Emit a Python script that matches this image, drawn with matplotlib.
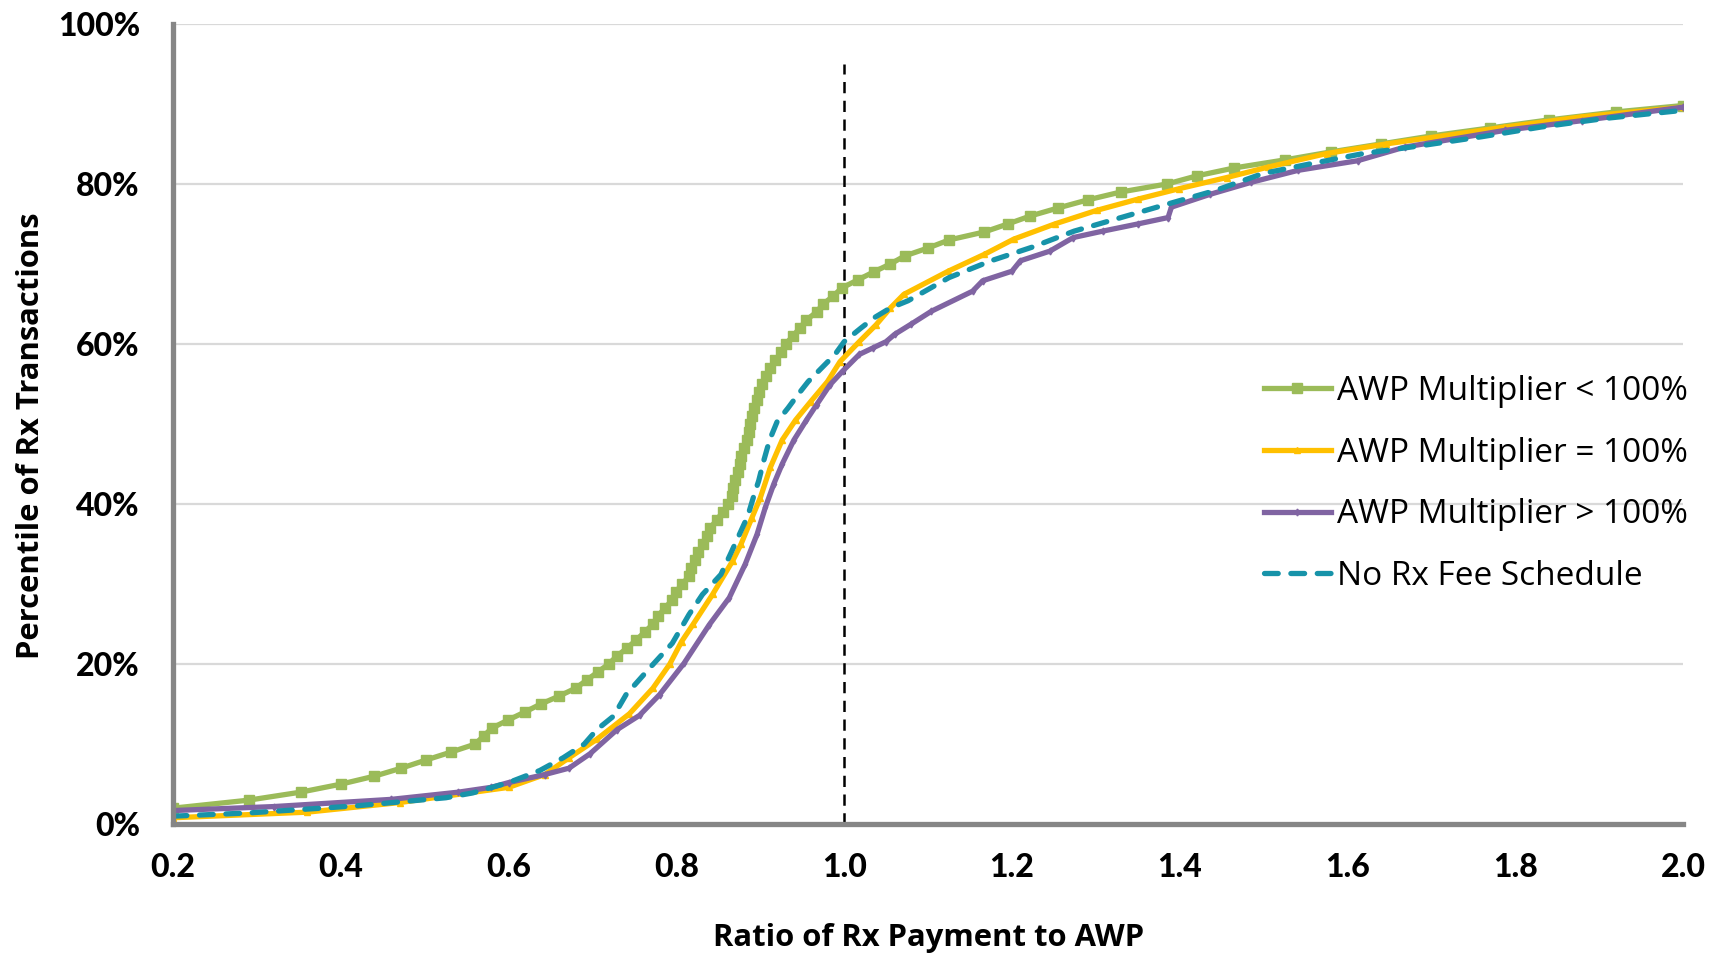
import matplotlib
matplotlib.use('Agg')
from matplotlib import pyplot as plt

# percentile (%) vs ratio of Rx payment to AWP
green_pct = [2, 3, 4, 5, 6, 7, 8, 9, 10, 11, 12, 13, 14, 15, 16, 17, 18, 19, 20, 21, 22, 23, 24, 25, 26, 27, 28, 29, 30,
             31, 32, 33, 34, 35, 36, 37, 38, 39, 40, 41, 42, 43, 44, 45, 46, 47, 48, 49, 50, 51, 52, 53, 54, 55, 56, 57,
             58, 59, 60, 61, 62, 63, 64, 65, 66, 67, 68, 69, 70, 71, 72, 73, 74, 75, 76, 77, 78, 79, 80, 81, 82, 83, 84,
             85, 86, 87, 88, 89, 89.8]
green_x = [0.200, 0.290, 0.352, 0.400, 0.440, 0.472, 0.501, 0.531, 0.560, 0.570, 0.580, 0.599, 0.619, 0.638, 0.660,
           0.680, 0.693, 0.706, 0.719, 0.729, 0.741, 0.752, 0.762, 0.772, 0.778, 0.786, 0.795, 0.799, 0.807, 0.815,
           0.817, 0.822, 0.826, 0.832, 0.836, 0.840, 0.848, 0.855, 0.862, 0.866, 0.867, 0.870, 0.873, 0.876, 0.877,
           0.880, 0.884, 0.887, 0.888, 0.890, 0.892, 0.896, 0.898, 0.902, 0.907, 0.912, 0.918, 0.925, 0.930, 0.939,
           0.947, 0.955, 0.967, 0.975, 0.987, 0.997, 1.016, 1.035, 1.055, 1.072, 1.100, 1.125, 1.167, 1.195, 1.222,
           1.255, 1.290, 1.330, 1.385, 1.420, 1.465, 1.525, 1.580, 1.640, 1.700, 1.770, 1.840, 1.920, 2.000]

yellow_pct = [0.8, 1.5, 2.7, 4.6, 6.2, 8.3, 10.6, 13.8, 17, 20, 22.8, 25, 28.7, 32.9, 35, 38.3, 40.8, 44.6, 48, 50.5,
              52.8, 55.3, 57.8, 60.3, 62.4, 64.5, 66.2, 69.1, 71.2, 73.1, 75, 76.7, 78.1, 79.4, 80.8, 82.1, 83.8, 85,
              87.1, 88.4, 89.6]
yellow_x = [0.2, 0.36, 0.47, 0.60, 0.643, 0.672, 0.705, 0.744, 0.772, 0.792, 0.806, 0.82, 0.843, 0.867, 0.877, 0.89,
            0.9, 0.912, 0.926, 0.942, 0.96, 0.98, 0.995, 1.018, 1.038, 1.055, 1.071, 1.124, 1.167, 1.202, 1.251, 1.301,
            1.35, 1.399, 1.456, 1.505, 1.575, 1.646, 1.787, 1.88, 2.0]

purple_pct = [1.7, 2.2, 3.1, 4.0, 4.6, 5.2, 6.2, 7.0, 8.8, 11.8, 13.6, 16.2, 20.1, 24.9, 28.3, 32.5, 36.2, 39.6, 42.5,
              45, 48, 50.5, 52.4, 54.9, 56.6, 58.7, 59.5, 60.3, 61.2, 62.5, 64.1, 66.6, 67.9, 69.1, 70.4, 71.6, 73.3,
              74.1, 75, 75.8, 77.1, 78.7, 80.2, 81.7, 82.9, 84.6, 86.7, 87.9, 89.6]
purple_x = [0.2, 0.32, 0.46, 0.54, 0.579, 0.60, 0.643, 0.672, 0.697, 0.729, 0.756, 0.78, 0.809, 0.839, 0.863, 0.882,
            0.896, 0.906, 0.916, 0.926, 0.94, 0.955, 0.967, 0.983, 0.998, 1.018, 1.034, 1.05, 1.06, 1.08, 1.104, 1.153,
            1.165, 1.2, 1.21, 1.245, 1.273, 1.308, 1.35, 1.386, 1.39, 1.436, 1.485, 1.541, 1.612, 1.668, 1.788, 1.879,
            2.0]

teal_pct = [1.0, 1.4, 2.3, 3.3, 3.9, 5.2, 6.7, 8.3, 10, 11.8, 13.5, 16.2, 19.5, 22.6, 26.2, 28.7, 31.2, 33.9, 36.2,
            38.5, 41.3, 42.9, 45.4, 48, 50.3, 52, 53.7, 55.3, 57, 58.7, 60.3, 62, 63.3, 64.5, 65.4, 68.3, 70.4, 72.1,
            74.1, 75.8, 77.5, 79.2, 81.3, 82.5, 83.8, 84.8, 85.9, 87.1, 88.2, 89.2]
teal_x = [0.2, 0.29, 0.42, 0.525, 0.557, 0.60, 0.637, 0.665, 0.69, 0.705, 0.725, 0.74, 0.768, 0.795, 0.815, 0.831,
          0.853, 0.865, 0.875, 0.885, 0.893, 0.898, 0.904, 0.911, 0.92, 0.933, 0.945, 0.957, 0.973, 0.989, 1.0, 1.02,
          1.036, 1.055, 1.076, 1.125, 1.175, 1.224, 1.274, 1.33, 1.386, 1.443, 1.499, 1.555, 1.619, 1.689, 1.76, 1.83,
          1.908, 2.0]

labels = ['AWP Multiplier < 100%', 'AWP Multiplier = 100%', 'AWP Multiplier > 100%', 'No Rx Fee Schedule']
x_ticks = [0.2, 0.4, 0.6, 0.8, 1.0, 1.2, 1.4, 1.6, 1.8, 2.0]
y_ticks = [0, 20, 40, 60, 80, 100]

tick_font = ['Lato', 'DejaVu Sans']
text_font = ['Open Sans', 'DejaVu Sans']

fig = plt.figure(figsize=(17.21, 9.55), dpi=100)
ax = fig.add_axes([0.1006, 0.137, 0.8774, 0.838])

ax.plot(green_x, green_pct, color='#9BBB59', lw=3.8, marker='s', ms=7.5, label=labels[0], zorder=3)
ax.plot(yellow_x, yellow_pct, color='#FFC000', lw=3.8, marker='^', ms=4, label=labels[1], zorder=3)
ax.plot(purple_x, purple_pct, color='#8064A2', lw=3.8, marker='d', ms=3.5, label=labels[2], zorder=3)
ax.plot(teal_x, teal_pct, color='#1793A9', lw=3.8, ls=(0, (2.6, 2.4)), dash_capstyle='round',
        label=labels[3], zorder=4)

ax.plot([1.0, 1.0], [0, 95], color='black', lw=1.8, ls=(0, (4.5, 3)), zorder=2)

ax.set_xlim(0.2, 2.0)
ax.set_ylim(0, 100)
ax.set_xticks(x_ticks)
ax.set_xticklabels(['%.1f' % v for v in x_ticks])
ax.set_yticks(y_ticks)
ax.set_yticklabels(['%d%%' % v for v in y_ticks])
for t in ax.get_xticklabels() + ax.get_yticklabels():
    t.set_family(tick_font)
    t.set_fontweight('black')
    t.set_fontsize(23)
ax.tick_params(axis='both', length=0)
ax.tick_params(axis='x', pad=21)
ax.tick_params(axis='y', pad=24)

ax.grid(axis='y', color='#D9D9D9', lw=1.6)
ax.set_axisbelow(True)
for s in ['top', 'right']:
    ax.spines[s].set_visible(False)
for s in ['left', 'bottom']:
    ax.spines[s].set_color('#868686')
    ax.spines[s].set_linewidth(3.8)
    ax.spines[s].set_zorder(5)

ax.set_xlabel('Ratio of Rx Payment to AWP', family=text_font, fontweight='bold', fontsize=22.3)
ax.set_ylabel('Percentile of Rx Transactions', family=text_font, fontweight='bold', fontsize=22.3)
ax.xaxis.set_label_coords(0.5, -0.123)
ax.yaxis.set_label_coords(-0.084, 0.485)

leg = ax.legend(loc='upper left', bbox_to_anchor=(0.7136, 0.578), frameon=False,
                prop={'family': text_font, 'size': 24}, handlelength=2.0, handletextpad=0.2,
                labelspacing=0.86, borderaxespad=0)

fig.savefig('out.png', dpi=100)
